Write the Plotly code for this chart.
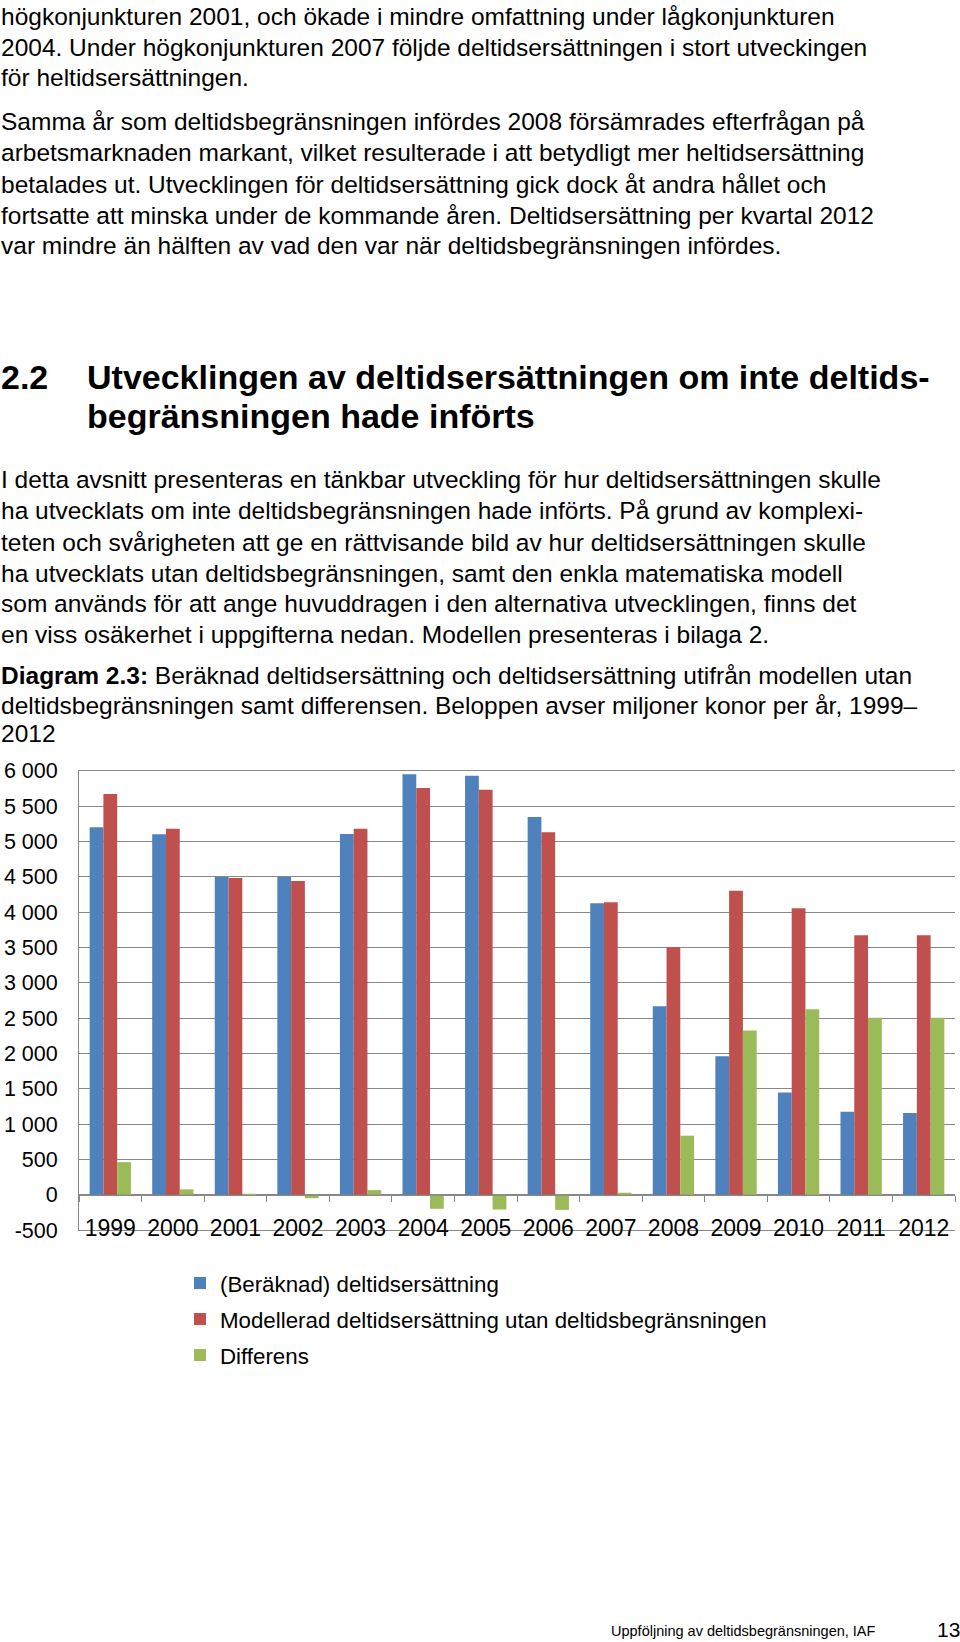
import plotly.graph_objects as go

# ---------------- data ----------------
years = ["1999", "2000", "2001", "2002", "2003", "2004", "2005",
         "2006", "2007", "2008", "2009", "2010", "2011", "2012"]
beraknad = [5200, 5100, 4495, 4495, 5105, 5950, 5930,
            5345, 4125, 2665, 1960, 1445, 1175, 1155]
modellerad = [5670, 5180, 4480, 4440, 5180, 5755, 5730,
              5130, 4140, 3500, 4300, 4055, 3670, 3670]
differens = [460, 75, -10, -50, 65, -200, -210,
             -215, 15, 835, 2325, 2625, 2505, 2505]
series_names = ["(Beräknad) deltidsersättning",
                "Modellerad deltidsersättning utan deltidsbegränsningen",
                "Differens"]
y_tickvals = [-500, 0, 500, 1000, 1500, 2000, 2500, 3000,
              3500, 4000, 4500, 5000, 5500, 6000]
y_ticktext = ["-500", "0", "500", "1 000", "1 500", "2 000", "2 500", "3 000",
              "3 500", "4 000", "4 500", "5 000", "5 500", "6 000"]

p1 = ["högkonjunkturen 2001, och ökade i mindre omfattning under lågkonjunkturen",
      "2004. Under högkonjunkturen 2007 följde deltidsersättningen i stort utveckingen",
      "för heltidsersättningen."]
p2 = ["Samma år som deltidsbegränsningen infördes 2008 försämrades efterfrågan på",
      "arbetsmarknaden markant, vilket resulterade i att betydligt mer heltidsersättning",
      "betalades ut. Utvecklingen för deltidsersättning gick dock åt andra hållet och",
      "fortsatte att minska under de kommande åren. Deltidsersättning per kvartal 2012",
      "var mindre än hälften av vad den var när deltidsbegränsningen infördes."]
heading_num = "2.2"
heading = ["Utvecklingen av deltidsersättningen om inte deltids-",
           "begränsningen hade införts"]
p3 = ["I detta avsnitt presenteras en tänkbar utveckling för hur deltidsersättningen skulle",
      "ha utvecklats om inte deltidsbegränsningen hade införts. På grund av komplexi-",
      "teten och svårigheten att ge en rättvisande bild av hur deltidsersättningen skulle",
      "ha utvecklats utan deltidsbegränsningen, samt den enkla matematiska modell",
      "som används för att ange huvuddragen i den alternativa utvecklingen, finns det",
      "en viss osäkerhet i uppgifterna nedan. Modellen presenteras i bilaga 2."]
caption = ["<b>Diagram 2.3:</b> Beräknad deltidsersättning och deltidsersättning utifrån modellen utan",
           "deltidsbegränsningen samt differensen. Beloppen avser miljoner konor per år, 1999–",
           "2012"]
footer = "Uppföljning av deltidsbegränsningen, IAF"
page_no = "13"

# ---------------- layout geometry ----------------
W, H = 960, 1642
FONT = "Liberation Sans, Arial, sans-serif"
colors = ["#4F81BD", "#C0504D", "#9BBB59"]
GRID = "#888888"

def px(x):
    return x / W

def py(y):
    return 1 - y / H

plot_left, plot_right = 79, 955
plot_top, plot_bottom = 770.7, 1230
ydom = [py(plot_bottom), py(plot_top)]
ymin, ymax = -500, 6000
zero_pos = ydom[0] + (0 - ymin) / (ymax - ymin) * (ydom[1] - ydom[0])
xrange_ = [-0.5, len(years) - 0.5]

fig = go.Figure()
for i, (name, vals) in enumerate(zip(series_names, [beraknad, modellerad, differens])):
    fig.add_trace(go.Bar(x=years, y=vals, name=name, marker_color=colors[i],
                         marker_line_width=0, legendgroup=f"g{i}"))
# invisible trace for the zero-line axis with boundary ticks
fig.add_trace(go.Scatter(x=years, y=[None] * len(years), xaxis="x2", yaxis="y",
                         mode="lines", showlegend=False, hoverinfo="skip"))

fig.update_layout(
    width=W, height=H, autosize=False,
    margin=dict(l=0, r=0, t=0, b=0, autoexpand=False),
    paper_bgcolor="white", plot_bgcolor="white",
    font=dict(family=FONT, color="#000000"),
    barmode="group", bargap=0.34, bargroupgap=0,
    xaxis=dict(domain=[px(plot_left), px(plot_right)], type="category",
               categoryarray=years, range=xrange_, autorange=False,
               showgrid=False, ticks="",
               showline=True, linecolor=GRID, linewidth=1, mirror=True,
               tickfont=dict(size=23, family=FONT, color="#000"),
               ticklabelstandoff=-23, zeroline=False),
    xaxis2=dict(type="category", categoryarray=years, range=xrange_, autorange=False,
                overlaying="x", anchor="free", position=zero_pos, showgrid=False,
                showticklabels=False, ticks="outside", tickson="boundaries",
                ticklen=6, tickcolor=GRID, tickwidth=1,
                showline=True, linecolor=GRID, linewidth=1),
    yaxis=dict(domain=ydom, range=[ymin, ymax], autorange=False, tickmode="array",
               tickvals=y_tickvals, ticktext=y_ticktext,
               showgrid=True, gridcolor=GRID, gridwidth=1,
               zeroline=False, showline=True, linecolor=GRID, linewidth=1,
               ticks="", ticklabelstandoff=16,
               tickfont=dict(size=21.5, family=FONT, color="#000")),
    legend=dict(x=px(180), y=py(1262), xanchor="left", yanchor="top",
                orientation="v", tracegroupgap=4, bgcolor="rgba(0,0,0,0)",
                font=dict(size=22.3, family=FONT, color="#000")),
    showlegend=True,
)

ann = []

def add_line(text, x, y, size=24.5, bold=False, anchor="left"):
    t = f"<b>{text}</b>" if bold else text
    ann.append(dict(text=t, x=px(x), y=py(y), xref="paper", yref="paper",
                    xanchor=anchor, yanchor="middle", showarrow=False,
                    borderpad=0, font=dict(size=size, family=FONT, color="#000")))

for t, y in zip(p1, [16, 47, 78]):
    add_line(t, 0, y)
for t, y in zip(p2, [122, 153, 184, 215, 246]):
    add_line(t, 0, y)
add_line(heading_num, 0, 377, size=34, bold=True)
for t, y in zip(heading, [377, 416]):
    add_line(t, 86, y, size=34, bold=True)
for t, y in zip(p3, [480, 511, 542, 573, 603, 634]):
    add_line(t, 0, y)
for t, y in zip(caption, [675, 705, 733]):
    add_line(t, 0, y)
add_line(footer, 610, 1631, size=14.5)
add_line(page_no, 961, 1629, size=21, anchor="right")

fig.update_layout(annotations=ann)
fig.write_html("out.html", config={"displayModeBar": False},
               post_script="document.body.style.margin='0';document.body.style.overflow='hidden';")
